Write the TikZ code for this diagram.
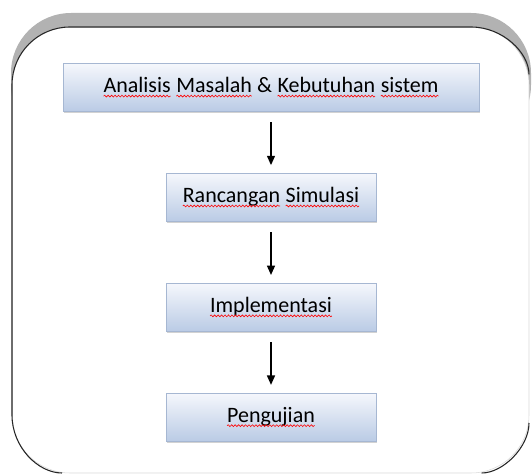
\documentclass[tikz,border=0pt]{standalone}
\usepackage{fontspec}
\setmainfont{Carlito}
\usetikzlibrary{positioning,shadows,arrows.meta,decorations.pathmorphing}

% red wavy spell-check line under a word
\newcommand\typo[1]{\tikz[baseline=(w.base)]{%
  \node[inner sep=0pt, outer sep=0pt, minimum width=0pt, minimum height=0pt, draw=none] (w) {#1};
  \draw[red, line width=0.45pt, shorten <=0pt, shorten >=0pt,
    decorate, decoration={snake, amplitude=0.7pt, segment length=2.6pt}]
    ([yshift=-2.4pt]w.base west) -- ([yshift=-2.4pt]w.base east);}}

\definecolor{boxtop}{HTML}{F5F7FC}
\definecolor{boxbot}{HTML}{BACBE5}
\definecolor{boxline}{HTML}{A6B7D2}

\tikzset{
  stage/.style={rectangle, draw=boxline, top color=boxtop, bottom color=boxbot,
    minimum height=36pt, font=\fontsize{16.5}{19}\selectfont,
    drop shadow={opacity=0.35, shadow xshift=1pt, shadow yshift=-1.2pt}},
}

\begin{document}
\begin{tikzpicture}[x=0.75pt, y=0.75pt, node distance=46pt, shorten >=6pt, shorten <=8pt,
    >={Triangle[length=7pt,width=6pt]}]
  \useasboundingbox (0,0) rectangle (532,475);
  % frame
  \fill[black!30, rounded corners=45pt] (11,330) rectangle (531,462);
  \fill[white, rounded corners=43.5pt] (12,2) rectangle (529,448);
  \draw[gray!30, rounded corners=43.5pt] (12,2) rectangle (529,448);
  \draw[black!85, line width=0.8pt] (529,390) arc[start angle=0, end angle=90, radius=43.5pt]
    -- (70,448) arc[start angle=90, end angle=180, radius=43.5pt]
    -- (12,60) arc[start angle=180, end angle=270, radius=43.5pt];
  \draw[black!85, line width=0.8pt] (471,2) arc[start angle=270, end angle=360, radius=43.5pt];

  \node[stage, minimum width=312pt] (analisis) at (271,387.5)
    {\typo{Analisis} \typo{Masalah} \& \typo{Kebutuhan} \typo{sistem}};
  \node[stage, minimum width=157.5pt] (rancangan) [below=of analisis] {\typo{Rancangan} \typo{Simulasi}};
  \node[stage, minimum width=157.5pt] (implementasi) [below=of rancangan] {\typo{Implementasi}};
  \node[stage, minimum width=157.5pt] (pengujian) [below=of implementasi] {\typo{Pengujian}};
  \path[->, line width=1pt]
    (analisis) edge (rancangan)
    (rancangan) edge (implementasi)
    (implementasi) edge (pengujian);
\end{tikzpicture}
\end{document}
